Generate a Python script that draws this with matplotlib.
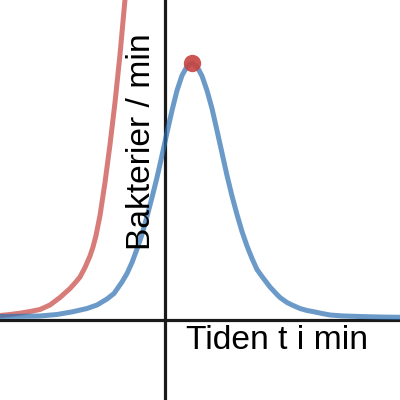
import matplotlib
matplotlib.use("Agg")
import matplotlib.pyplot as plt

# Blue curve: bacteria per minute (rate) vs time
blue_t = [-4.125, -3.625, -3.125, -2.7, -2.3, -1.95, -1.7, -1.45, -1.275,
          -1.075, -0.95, -0.825, -0.7, -0.575, -0.45, -0.325, -0.2, -0.075,
          0.05, 0.175, 0.3, 0.425, 0.55, 0.675, 0.8, 0.925, 1.05, 1.175, 1.3,
          1.425, 1.55, 1.675, 1.8, 1.925, 2.05, 2.175, 2.3, 2.425, 2.625,
          2.8, 2.875, 3.05, 3.175, 3.375, 3.55, 3.75, 3.925, 4.125, 4.425,
          4.875, 5.375, 5.875]
blue_y = [0.075, 0.08, 0.0875, 0.125, 0.195, 0.275, 0.3625, 0.5125, 0.65,
          0.9375, 1.15, 1.425, 1.7625, 2.125, 2.575, 3.05, 3.55, 4.1,
          4.675, 5.225, 5.725, 6.1, 6.325, 6.4125, 6.325, 6.0875, 5.725,
          5.275, 4.725, 4.1625, 3.6, 3.0875, 2.625, 2.2, 1.8375, 1.525, 1.25,
          1.075, 0.8125, 0.625, 0.55, 0.425, 0.3625, 0.275, 0.225, 0.1875,
          0.15, 0.1125, 0.09, 0.075, 0.0625, 0.055]

# Red curve: rapidly growing curve
red_t = [-4.125, -3.875, -3.625, -3.375, -3.125, -2.875, -2.625, -2.375,
         -2.25, -2.125, -2.0, -1.875, -1.8, -1.725, -1.625, -1.5, -1.375,
         -1.25, -1.125, -1.0]
red_y = [0.1, 0.125, 0.158, 0.2, 0.25, 0.363, 0.55, 0.775, 0.913, 1.063,
         1.3, 1.588, 1.813, 2.1, 2.6, 3.425, 4.375, 5.425, 6.625, 8.0]

# Maximum point
peak_t = [0.675]
peak_y = [6.405]

x_label = "Tiden t i min"
y_label = "Bakterier / min"

fig = plt.figure(figsize=(4, 4), dpi=100)
ax = fig.add_axes([0, 0, 1, 1])
ax.set_xlim(-4.125, 5.875)
ax.set_ylim(-2.0125, 7.9875)
ax.axis("off")

ax.axhline(0, color="#1a1a1a", lw=2.3, zorder=1)
ax.axvline(0, color="#1a1a1a", lw=2.3, zorder=1)

ax.plot(red_t, red_y, color="#c74440", alpha=0.7, lw=3.6, zorder=2,
        solid_capstyle="butt", solid_joinstyle="round")
ax.plot(blue_t, blue_y, color="#2d70b3", alpha=0.7, lw=3.6, zorder=2,
        solid_joinstyle="round")
ax.plot(peak_t, peak_y, "o", color="#c74440", alpha=0.9, ms=12.5, mew=0,
        zorder=3)

ax.text(0.52, -0.7375, x_label, family="Liberation Sans", fontsize=24.2,
        ha="left", va="baseline", color="black", zorder=4)
ax.text(-0.375, 1.75, y_label, family="Liberation Sans", fontsize=24.2,
        rotation=90, rotation_mode="anchor", ha="left", va="baseline",
        color="black", zorder=4)

fig.savefig("out.png", dpi=100)
